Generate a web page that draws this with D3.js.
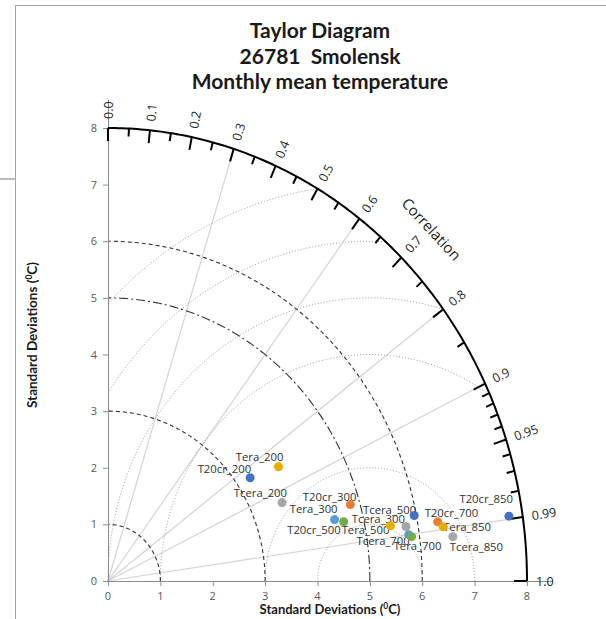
<!DOCTYPE html>
<html>
<head>
<meta charset="utf-8">
<script src="https://cdn.jsdelivr.net/npm/d3@7"></script>
<style>
  body { margin: 0; background: #fff; }
  text { font-family: "Open Sans", "DejaVu Sans", sans-serif; }
  .bold { font-family: Lato, "Open Sans", sans-serif; font-weight: bold; white-space: pre; }
</style>
</head>
<body>
<svg id="chart" width="606" height="619"></svg>
<script>
// ---- data ----
const titleLines = ["Taylor Diagram", "26781  Smolensk", "Monthly mean temperature"];

const pointLabels = ["T20cr_200", "Tera_200", "Tcera_200", "T20cr_300", "Tera_300",
  "T20cr_500", "Tera_500", "Tcera_300", "Tcera_500", "Tcera_700",
  "Tera_700", "T20cr_700", "Tera_850", "Tcera_850", "T20cr_850"];
const stdDevs = [3.27, 3.83, 3.60, 4.82, 4.46,
  4.62, 5.48, 5.77, 5.96, 5.80,
  5.85, 6.38, 6.47, 6.63, 7.74];
const correlations = [0.830, 0.850, 0.923, 0.960, 0.970,
  0.974, 0.984, 0.986, 0.981, 0.990,
  0.991, 0.9865, 0.989, 0.993, 0.989];

const stdTicks = [0, 1, 2, 3, 4, 5, 6, 7, 8];
const corrMajor = [0.0, 0.1, 0.2, 0.3, 0.4, 0.5, 0.6, 0.7, 0.8, 0.9, 0.95, 0.99, 1.0];
const corrMajorLabels = ["0.0", "0.1", "0.2", "0.3", "0.4", "0.5", "0.6", "0.7", "0.8", "0.9", "0.95", "0.99", "1.0"];
const corrMinor = [0.05, 0.15, 0.25, 0.35, 0.45, 0.55, 0.65, 0.75, 0.85,
  0.91, 0.92, 0.93, 0.94, 0.96, 0.97, 0.98];
const corrLines = [0.3, 0.6, 0.8, 0.9, 0.99];
const stdArcs = [1, 3, 6];
const refStd = 5;
const rmsRadii = [1, 2, 4, 5, 6, 7];
const maxStd = 8;

// ---- styling ----
const pointColors = ["#4472C4", "#E6AC00", "#A5A5A5", "#ED7D31", "#5B9BD5",
  "#70AD47", "#E6AC00", "#A5A5A5", "#4472C4", "#5B9BD5",
  "#70AD47", "#ED7D31", "#E6AC00", "#A5A5A5", "#4472C4"];
// label nudges relative to each marker: [dx, dy, anchor]
const labelNudges = [
  [1, -5, "end"], [5, -6, "end"], [5, -6, "end"], [6, -4, "end"], [3, -7, "end"],
  [-3, 12, "end"], [-1, 8, "end"], [-1, -4, "end"], [2, -2, "end"], [1, 10, "end"],
  [-18, 13, "start"], [-13, -5, "start"], [0, 4, "start"], [-3, 14, "start"], [4, -13, "end"]
];

const svg = d3.select("#chart");

// frame lines
svg.append("line").attr("x1", 15).attr("y1", 5.5).attr("x2", 606).attr("y2", 5.5)
  .attr("stroke", "#a6a6a6").attr("stroke-width", 1);
svg.append("line").attr("x1", 15.5).attr("y1", 5).attr("x2", 15.5).attr("y2", 619)
  .attr("stroke", "#a6a6a6").attr("stroke-width", 1);
svg.append("line").attr("x1", 0).attr("y1", 179).attr("x2", 15).attr("y2", 179)
  .attr("stroke", "#a6a6a6").attr("stroke-width", 1.5);

const x = d3.scaleLinear().domain([0, 8]).range([108, 527]);
const y = d3.scaleLinear().domain([0, 8]).range([581, 128]);
const ox = x(0), oy = y(0);

const polar = (r, c) => [x(r * c), y(r * Math.sqrt(Math.max(0, 1 - c * c)))];
const line = d3.line().defined(d => d != null).x(d => d[0]).y(d => d[1]);

// radial correlation lines
svg.append("g").selectAll("line").data(corrLines).join("line")
  .attr("x1", ox).attr("y1", oy)
  .attr("x2", c => polar(maxStd, c)[0]).attr("y2", c => polar(maxStd, c)[1])
  .attr("stroke", "#d4d4d4").attr("stroke-width", 1.2);

// centred RMS circles around the reference
const rmsPath = rad => {
  const pts = d3.range(0, 721).map(i => {
    const t = Math.PI * i / 720;
    const sx = refStd + rad * Math.cos(t), sy = rad * Math.sin(t);
    if (sx < 0 || sx * sx + sy * sy > maxStd * maxStd) return null;
    return [x(sx), y(sy)];
  });
  return line(pts);
};
svg.append("g").selectAll("path").data(rmsRadii).join("path")
  .attr("d", rmsPath).attr("fill", "none")
  .attr("stroke", "#9a9a9a").attr("stroke-width", 1).attr("stroke-dasharray", "1,2");

// standard deviation arcs around the origin
const stdPath = r => line(d3.range(0, 181).map(i => {
  const t = Math.PI / 2 * i / 180;
  return [x(r * Math.cos(t)), y(r * Math.sin(t))];
}));
svg.append("g").selectAll("path").data(stdArcs).join("path")
  .attr("d", stdPath).attr("fill", "none")
  .attr("stroke", "#333").attr("stroke-width", 1.1).attr("stroke-dasharray", "4,3");
svg.append("path").attr("d", stdPath(refStd)).attr("fill", "none")
  .attr("stroke", "#333").attr("stroke-width", 1.1).attr("stroke-dasharray", "9,3,2,3");

// axes
const xAxis = svg.append("g");
xAxis.append("line").attr("x1", ox).attr("y1", oy + 0.5).attr("x2", x(8.5)).attr("y2", oy + 0.5)
  .attr("stroke", "#8c8c8c");
xAxis.selectAll("line.t").data(stdTicks).join("line").attr("class", "t")
  .attr("x1", d => x(d) + 0.5).attr("x2", d => x(d) + 0.5).attr("y1", oy).attr("y2", oy + 5)
  .attr("stroke", "#8c8c8c");
xAxis.selectAll("text").data(stdTicks).join("text")
  .attr("x", d => x(d)).attr("y", oy + 19).attr("text-anchor", "middle")
  .attr("font-size", 11).attr("fill", "#595959").text(d => d);

const yAxis = svg.append("g");
yAxis.append("line").attr("x1", ox + 0.5).attr("y1", oy).attr("x2", ox + 0.5).attr("y2", y(8.5))
  .attr("stroke", "#8c8c8c");
yAxis.selectAll("line.t").data(stdTicks).join("line").attr("class", "t")
  .attr("x1", ox - 5).attr("x2", ox).attr("y1", d => y(d) + 0.5).attr("y2", d => y(d) + 0.5)
  .attr("stroke", "#8c8c8c");
yAxis.selectAll("text").data(stdTicks).join("text")
  .attr("x", ox - 14).attr("y", d => y(d) + 4).attr("text-anchor", "middle")
  .attr("font-size", 11).attr("fill", "#595959").text(d => d);

// outer correlation arc
svg.append("path").attr("d", stdPath(maxStd)).attr("fill", "none")
  .attr("stroke", "#000").attr("stroke-width", 2);

const radialDir = c => {
  const [px, py] = polar(maxStd, c);
  const dx = px - ox, dy = py - oy, n = Math.hypot(dx, dy);
  return { px, py, ux: dx / n, uy: dy / n };
};
const tickGroup = svg.append("g");
tickGroup.selectAll("line.major").data(corrMajor).join("line").attr("class", "major")
  .attr("x1", c => radialDir(c).px).attr("y1", c => radialDir(c).py)
  .attr("x2", c => radialDir(c).px - radialDir(c).ux * 13)
  .attr("y2", c => radialDir(c).py - radialDir(c).uy * 13)
  .attr("stroke", "#000").attr("stroke-width", 2);
tickGroup.selectAll("line.minor").data(corrMinor).join("line").attr("class", "minor")
  .attr("x1", c => radialDir(c).px).attr("y1", c => radialDir(c).py)
  .attr("x2", c => radialDir(c).px - radialDir(c).ux * 8)
  .attr("y2", c => radialDir(c).py - radialDir(c).uy * 8)
  .attr("stroke", "#000").attr("stroke-width", 2);
tickGroup.selectAll("text").data(corrMajor).join("text")
  .attr("transform", c => {
    const d = radialDir(c);
    const a = Math.atan2(d.uy, d.ux) * 180 / Math.PI;
    return `translate(${d.px + d.ux * 9},${d.py + d.uy * 9}) rotate(${a})`;
  })
  .attr("dominant-baseline", "central").attr("font-size", 12.5).attr("fill", "#262626")
  .text((c, i) => corrMajorLabels[i]);

// "Correlation" caption along the arc
{
  const c = 0.705, r = 8.77;
  const th = Math.acos(c);
  const [cx, cy] = polar(r, c);
  const ang = Math.atan2(56.625 * Math.cos(th), 52.375 * Math.sin(th)) * 180 / Math.PI;
  svg.append("text").attr("transform", `translate(${cx},${cy}) rotate(${ang})`)
    .attr("text-anchor", "middle").attr("dominant-baseline", "central")
    .attr("font-size", 15).attr("fill", "#1a1a1a").text("Correlation");
}

// data points and labels
const pts = pointLabels.map((name, i) => {
  const [px, py] = polar(stdDevs[i], correlations[i]);
  return { name, px, py, color: pointColors[i], nudge: labelNudges[i] };
});
svg.append("g").selectAll("text").data(pts).join("text")
  .attr("x", d => d.px + d.nudge[0]).attr("y", d => d.py + d.nudge[1])
  .attr("text-anchor", d => d.nudge[2])
  .attr("font-size", 11.3).attr("fill", "#333").text(d => d.name);
svg.append("g").selectAll("circle").data(pts).join("circle")
  .attr("cx", d => d.px).attr("cy", d => d.py).attr("r", 4.5)
  .attr("fill", d => d.color);

// titles
svg.append("g").selectAll("text").data(titleLines).join("text")
  .attr("class", "bold").attr("x", 320).attr("y", (d, i) => 38 + i * 25.5)
  .attr("text-anchor", "middle").attr("font-size", 21).attr("fill", "#1a1a1a").text(d => d);

// axis titles
const axTitle = (sel) => {
  sel.append("tspan").text("Standard Deviations (");
  sel.append("tspan").attr("baseline-shift", "super").attr("font-size", 8.5).text("0");
  sel.append("tspan").text("C)");
};
svg.append("text").attr("class", "bold").attr("x", 330).attr("y", 614)
  .attr("text-anchor", "middle").attr("font-size", 13).attr("fill", "#1a1a1a").call(axTitle);
svg.append("text").attr("class", "bold")
  .attr("transform", "translate(37,335) rotate(-90)")
  .attr("text-anchor", "middle").attr("font-size", 13.5).attr("fill", "#1a1a1a").call(axTitle);
</script>
</body>
</html>
